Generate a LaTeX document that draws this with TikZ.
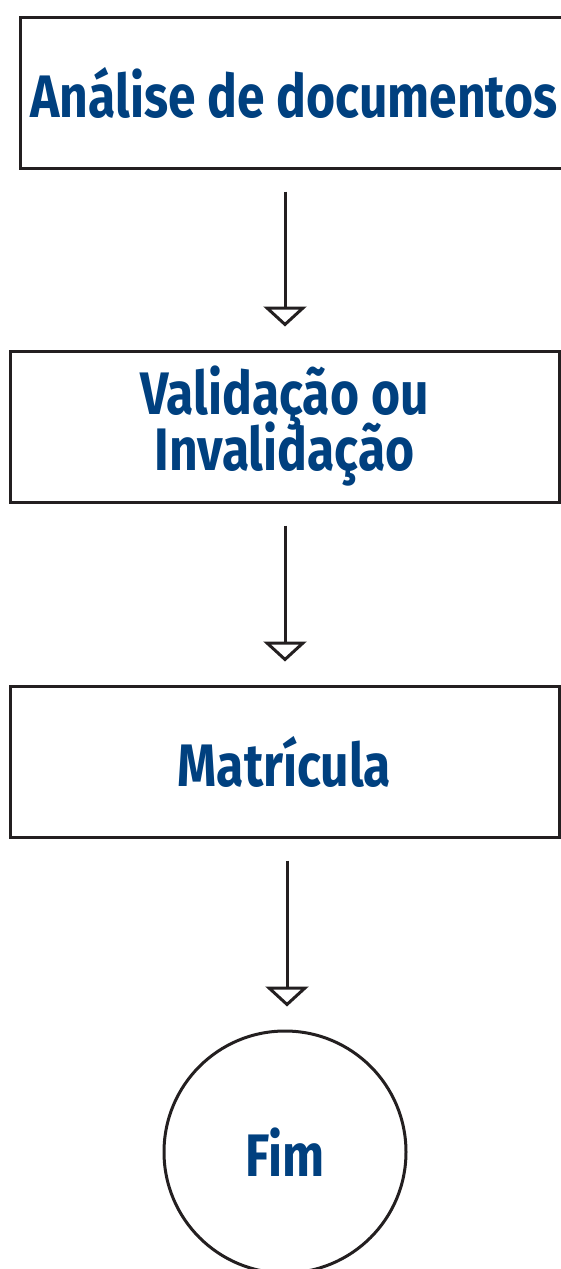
\documentclass[tikz,border=0pt]{standalone}
\usepackage{fontspec}
\newfontfamily\dinfont[FakeStretch=0.83]{Fira Sans Bold}
\newcommand\boxfont{\dinfont\fontsize{60}{56}\selectfont\lineskiplimit=-100pt\relax}
\usetikzlibrary{arrows.meta}
\definecolor{txtblue}{HTML}{00407F}
\definecolor{ink}{HTML}{231F20}
\tikzset{
  boxnode/.style={draw=ink, line width=3pt, minimum height=151pt, inner sep=0pt,
    font=\boxfont, text=txtblue, align=center},
  endnode/.style={draw=ink, line width=3pt, circle, minimum size=242pt, inner sep=0pt,
    font=\boxfont, text=txtblue},
  flow/.style={draw=ink, line width=3pt,
    -{Triangle[open, length=20pt, width=43pt]},
    shorten <=22pt, shorten >=23pt}
}
\begin{document}
\begin{tikzpicture}[x=1pt,y=-1pt]
\useasboundingbox (0,0) rectangle (561,1269);
\node[boxnode, minimum width=548pt] (a) at (294,92.5) {Análise de documentos};
\node[boxnode, minimum width=549pt] (b) at (284.5,426.5) {Validação ou\\Invalidação};
\node[boxnode, minimum width=549pt] (c) at (284.5,761.5) {Matrícula};
\node[endnode] (d) at (285,1152) {Fim};
\draw[flow] ([xshift=-9pt]a.south) -- ([xshift=0.5pt]b.north);
\draw[flow] ([xshift=0.5pt]b.south) -- ([xshift=0.5pt]c.north);
\draw[flow] ([xshift=2.5pt]c.south) -- ([xshift=2pt]d.north);
\end{tikzpicture}
\end{document}
